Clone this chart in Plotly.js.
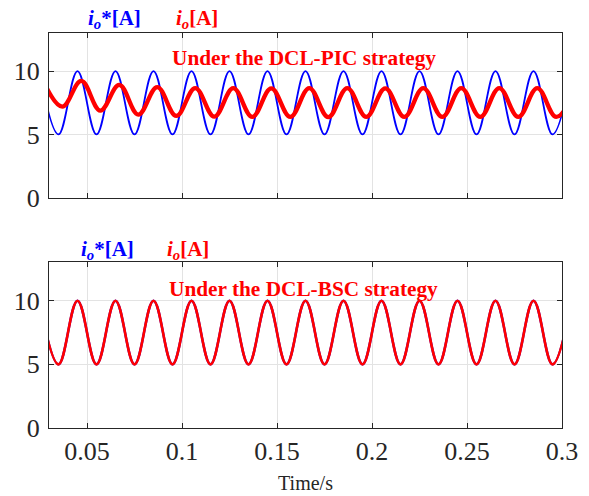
<!DOCTYPE html>
<html>
<head>
<meta charset="utf-8">
<script src="https://cdn.plot.ly/plotly-3.0.1.min.js"></script>
<style>html,body{margin:0;padding:0;background:#fff;}#chart{width:589px;height:496px;}</style>
</head>
<body>
<div id="chart"></div>
<script>
// Reference current i_o* (extrema), same in both panels
const refTime = [0.025, 0.035, 0.045, 0.055, 0.065, 0.075, 0.085, 0.095, 0.105, 0.115, 0.125, 0.135, 0.145, 0.155, 0.165, 0.175, 0.185, 0.195, 0.205, 0.215, 0.225, 0.235, 0.245, 0.255, 0.265, 0.275, 0.285, 0.295, 0.305];
const refCurrent = [10, 5, 10, 5, 10, 5, 10, 5, 10, 5, 10, 5, 10, 5, 10, 5, 10, 5, 10, 5, 10, 5, 10, 5, 10, 5, 10, 5, 10];

// Output current i_o under DCL-PIC (extrema)
const picTime = [0.027, 0.037, 0.047, 0.057, 0.067, 0.077, 0.087, 0.097, 0.107, 0.117, 0.127, 0.137, 0.147, 0.157, 0.167, 0.177, 0.187, 0.197, 0.207, 0.217, 0.227, 0.237, 0.247, 0.257, 0.267, 0.277, 0.287, 0.297, 0.307];
const picCurrent = [9.2, 7.2, 9.22, 6.88, 8.91, 6.57, 8.73, 6.46, 8.66, 6.40, 8.65, 6.38, 8.64, 6.38, 8.65, 6.37, 8.65, 6.38, 8.64, 6.38, 8.65, 6.38, 8.65, 6.38, 8.65, 6.38, 8.65, 6.38, 8.65];

// Output current i_o under DCL-BSC (extrema)
const bscTime = [0.025, 0.035, 0.045, 0.055, 0.065, 0.075, 0.085, 0.095, 0.105, 0.115, 0.125, 0.135, 0.145, 0.155, 0.165, 0.175, 0.185, 0.195, 0.205, 0.215, 0.225, 0.235, 0.245, 0.255, 0.265, 0.275, 0.285, 0.295, 0.305];
const bscCurrent = [10, 5, 10, 5, 10, 5, 10, 5, 10, 5, 10, 5, 10, 5, 10, 5, 10, 5, 10, 5, 10, 5, 10, 5, 10, 5, 10, 5, 10];

const xTickVals = [0.05, 0.1, 0.15, 0.2, 0.25, 0.3];
const xTickText = ['0.05', '0.1', '0.15', '0.2', '0.25', '0.3'];
const yTickVals = [0, 5, 10];
const yTickText = ['0', '5', '10'];

const BLUE = '#0000ff', RED = '#ff0000', AX = '#262626', GRID = '#e3e3e3';
const SERIF = 'Liberation Serif, Times New Roman, serif';

const traces = [
  {x: refTime, y: refCurrent, xaxis: 'x', yaxis: 'y', mode: 'lines',
   line: {color: BLUE, width: 1.8, shape: 'spline', smoothing: 1.1}},
  {x: picTime, y: picCurrent, xaxis: 'x', yaxis: 'y', mode: 'lines',
   line: {color: RED, width: 4.3, shape: 'spline', smoothing: 1.1}},
  {x: refTime, y: refCurrent, xaxis: 'x2', yaxis: 'y2', mode: 'lines',
   line: {color: BLUE, width: 2.4, shape: 'spline', smoothing: 1.1}},
  {x: bscTime, y: bscCurrent, xaxis: 'x2', yaxis: 'y2', mode: 'lines',
   line: {color: RED, width: 2.6, shape: 'spline', smoothing: 1.1}}
];

function xax(anchor, labels) {
  return {anchor: anchor, range: [0.03, 0.3], tickvals: xTickVals, ticktext: xTickText,
    showticklabels: labels, ticks: 'inside', ticklen: 5, tickcolor: AX, tickwidth: 1,
    showline: true, linecolor: AX, linewidth: 1, mirror: 'ticks',
    showgrid: true, gridcolor: GRID, gridwidth: 1, zeroline: false,
    tickfont: {family: SERIF, size: 26, color: AX}};
}
function yax(anchor, domain) {
  return {anchor: anchor, domain: domain, range: [0, 13], tickvals: yTickVals, ticktext: yTickText,
    ticks: 'inside', ticklen: 5, tickcolor: AX, tickwidth: 1,
    showline: true, linecolor: AX, linewidth: 1, mirror: 'ticks',
    showgrid: true, gridcolor: GRID, gridwidth: 1, zeroline: false,
    ticklabelstandoff: 3,
    tickfont: {family: SERIF, size: 26, color: AX}};
}

const xa2 = xax('y2', true);
xa2.matches = 'x';
xa2.title = {text: 'Time/s', font: {family: SERIF, size: 20, color: AX}, standoff: 10};

function ann(text, x, y, color, size) {
  return {text: text, xref: 'paper', yref: 'paper', x: x, y: y, xanchor: 'center', yanchor: 'middle',
    showarrow: false, font: {family: SERIF, size: size, color: color}};
}

const layout = {
  width: 589, height: 496,
  margin: {l: 49, r: 27, t: 33, b: 68},
  paper_bgcolor: '#ffffff', plot_bgcolor: '#ffffff',
  showlegend: false,
  xaxis: xax('y', false),
  yaxis: yax('x', [0.5826, 1]),
  xaxis2: xa2,
  yaxis2: yax('x2', [0, 0.419]),
  annotations: [
    ann('<b><i>i</i><sub><i>o</i></sub>*[A]</b>', 0.128, 1.035, BLUE, 21),
    ann('<b><i>i</i><sub><i>o</i></sub>[A]</b>', 0.288, 1.035, RED, 21),
    ann('<b>Under the DCL-PIC strategy</b>', 0.497, 0.9355, RED, 21.3),
    ann('<b><i>i</i><sub><i>o</i></sub>*[A]</b>', 0.114, 0.4505, BLUE, 21),
    ann('<b><i>i</i><sub><i>o</i></sub>[A]</b>', 0.271, 0.4505, RED, 21),
    ann('<b>Under the DCL-BSC strategy</b>', 0.497, 0.3511, RED, 21.3)
  ]
};

Plotly.newPlot('chart', traces, layout, {displayModeBar: false, staticPlot: true});
</script>
</body>
</html>
